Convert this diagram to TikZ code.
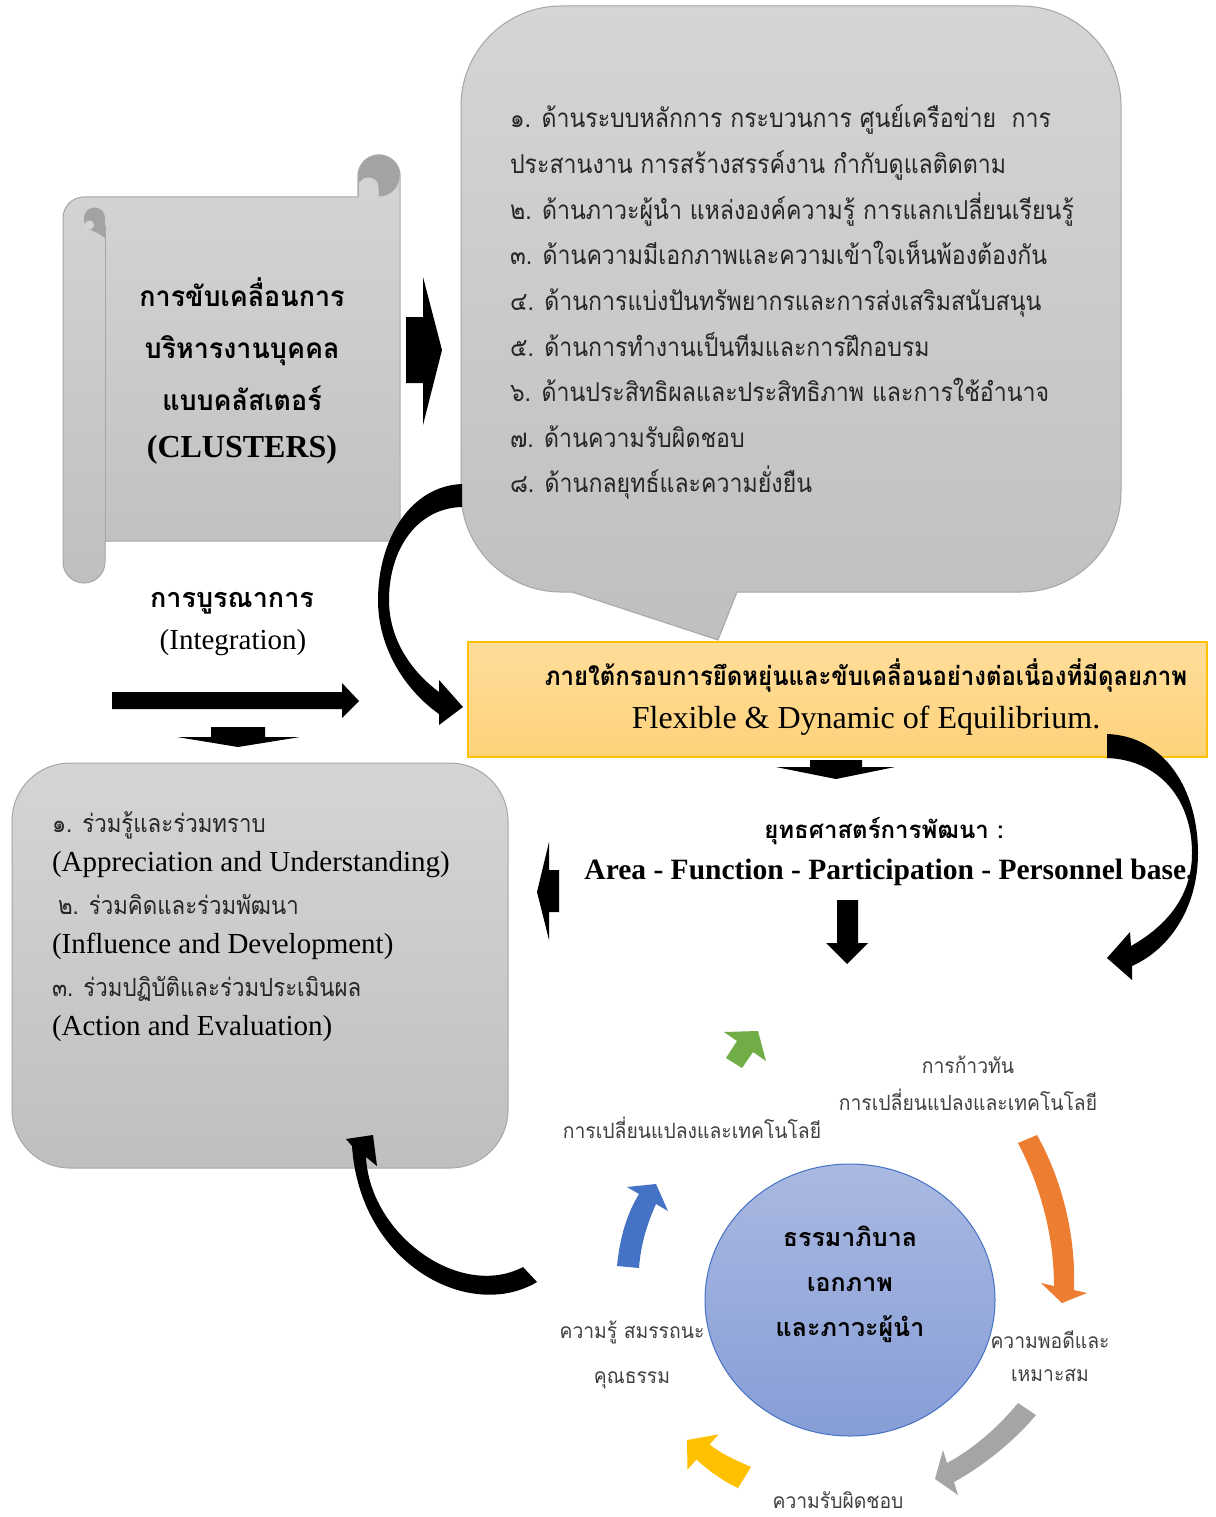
\documentclass[tikz,border=0pt]{standalone}
\usepackage{fontspec}
\setmainfont{Liberation Serif}
\newfontfamily\thai[Script=Thai]{Loma}
\newfontfamily\thainarrow[Script=Thai,FakeStretch=0.89]{Loma}
\newfontfamily\thaimid[Script=Thai,FakeStretch=0.92]{Loma}
\newfontfamily\thaiscroll[Script=Thai,FakeStretch=0.96]{Loma}
\definecolor{gTop}{HTML}{D5D5D5}
\definecolor{gBot}{HTML}{BFBFBF}
\definecolor{gEdge}{HTML}{A6A6A6}
\definecolor{gDark}{HTML}{A3A3A3}
\definecolor{yTop}{HTML}{FFDD9A}
\definecolor{yBot}{HTML}{FDD27A}
\definecolor{yEdge}{HTML}{FFC000}
\definecolor{cTop}{HTML}{AAB9E1}
\definecolor{cBot}{HTML}{869DD6}
\definecolor{cEdge}{HTML}{4472C4}
\definecolor{aGreen}{HTML}{70AD47}
\definecolor{aOrange}{HTML}{ED7D31}
\definecolor{aGrey}{HTML}{A5A5A5}
\definecolor{aGold}{HTML}{FFC000}
\definecolor{aBlue}{HTML}{4472C4}
\begin{document}
\begin{tikzpicture}[x=1pt,y=-1pt,
  panel/.style={top color=gTop, bottom color=gBot, draw=gEdge, line width=1},
  blockarrow/.style={fill=black},
  txt/.style={inner sep=0pt, outer sep=0pt},
  bubbleline/.style={txt, anchor=base west, text=black!85, font=\thainarrow\fontsize{26}{30}\selectfont},
  boxthai/.style={txt, anchor=base west, text=black!85, font=\thainarrow\fontsize{25}{30}\selectfont},
  boxlatin/.style={txt, anchor=base west, text=black, font=\fontsize{29}{34}\selectfont},
  scrollthai/.style={txt, anchor=base, font=\thaiscroll\bfseries\fontsize{28}{32}\selectfont},
  cyclelabel/.style={txt, anchor=base, text=black!75, font=\thaimid\fontsize{21}{24}\selectfont},
  corelabel/.style={txt, anchor=base, font=\thai\bfseries\fontsize{25}{30}\selectfont},
]
\useasboundingbox (0,0) rectangle (1215,1517);
\fill[white] (0,0) rectangle (1215,1517);

% ---------- scroll ----------
\path[panel] (84,197) -- (358,197) -- (358,176)
  .. controls (358,164.4) and (367.4,155) .. (379,155)
  .. controls (390.6,155) and (400,164.4) .. (400,176)
  -- (400,533) .. controls (400,537.4) and (396.4,541) .. (392,541)
  -- (105,541) -- (105,562)
  .. controls (105,573.6) and (95.6,583) .. (84,583)
  .. controls (72.4,583) and (63,573.6) .. (63,562)
  -- (63,218) .. controls (63,206.4) and (72.4,197) .. (84,197) -- cycle;
\draw[gEdge, line width=1] (105,226) -- (105,541);
% curls of the scroll
\fill[gDark] (84,219) -- (84,218) .. controls (84,212) and (88.5,207.5) .. (94.5,207.5)
  .. controls (100.5,207.5) and (105,212) .. (105,218) -- (105,238)
  .. controls (100,234) and (94,231) .. (88,229) .. controls (86,226) and (84,223) .. (84,219) -- cycle;
\fill[gTop] (89.5,225) circle (4.5);
\fill[gDark] (379,176) circle (20.5);
\fill[gTop!96!gBot] (358.5,197) -- (358.5,187) .. controls (358.5,181.5) and (363,177.5) .. (368.5,177.5)
  .. controls (374,177.5) and (378.5,181.5) .. (378.5,187) -- (378.5,197) -- cycle;
\draw[gEdge, line width=1] (358,197) -- (358,176)
  .. controls (358,164.4) and (367.4,155) .. (379,155)
  .. controls (390.6,155) and (400,164.4) .. (400,176);

\node[scrollthai] (scrollA) at (242,306) {การขับเคลื่อนการ};
\node[scrollthai] (scrollB) at (242,358) {บริหารงานบุคคล};
\node[scrollthai] (scrollC) at (242,410) {แบบคลัสเตอร์};
\node[txt, anchor=base, font=\bfseries\fontsize{32}{36}\selectfont] (scrollD) at (242,457) {(CLUSTERS)};

% arrow from scroll to the list
\path[blockarrow] (406,317) -- (423,317) -- (423,277) -- (442,350) -- (423,425) -- (423,383) -- (406,383) -- cycle;

% ---------- callout with the eight aspects ----------
\path[panel] (461,106) .. controls (461,50.8) and (505.8,6) .. (561,6)
  -- (1021,6) .. controls (1076.2,6) and (1121,50.8) .. (1121,106)
  -- (1121,492) .. controls (1121,547.2) and (1076.2,592) .. (1021,592)
  -- (737,592) -- (718,640) -- (572,592) -- (561,592)
  .. controls (505.8,592) and (461,547.2) .. (461,492) -- cycle;

\node[bubbleline] (asp1a) at (510,128) {๑. ด้านระบบหลักการ กระบวนการ ศูนย์เครือข่าย~~การ};
\node[bubbleline] (asp1b) at (510,173.6) {ประสานงาน การสร้างสรรค์งาน กำกับดูแลติดตาม};
\node[bubbleline] (asp2) at (510,219.2) {๒. ด้านภาวะผู้นำ แหล่งองค์ความรู้ การแลกเปลี่ยนเรียนรู้};
\node[bubbleline] (asp3) at (510,264.8) {๓. ด้านความมีเอกภาพและความเข้าใจเห็นพ้องต้องกัน};
\node[bubbleline] (asp4) at (510,310.4) {๔. ด้านการแบ่งปันทรัพยากรและการส่งเสริมสนับสนุน};
\node[bubbleline] (asp5) at (510,356) {๕. ด้านการทำงานเป็นทีมและการฝึกอบรม};
\node[bubbleline] (asp6) at (510,401.6) {๖. ด้านประสิทธิผลและประสิทธิภาพ และการใช้อำนาจ};
\node[bubbleline] (asp7) at (510,447.2) {๗. ด้านความรับผิดชอบ};
\node[bubbleline] (asp8) at (510,492.8) {๘. ด้านกลยุทธ์และความยั่งยืน};

% ---------- framework box ----------
\path[top color=yTop, bottom color=yBot, draw=yEdge, line width=1.5] (468,642) rectangle (1207,757);
\node[txt, anchor=base, font=\thaimid\bfseries\fontsize{26}{30}\selectfont] (frameTh) at (866,685) {ภายใต้กรอบการยึดหยุ่นและขับเคลื่อนอย่างต่อเนื่องที่มีดุลยภาพ};
\node[txt, anchor=base, font=\fontsize{32}{36}\selectfont] (frameEn) at (866,728) {Flexible \& Dynamic of Equilibrium.};

% curved arrow from the callout into the framework box
\path[blockarrow] (462,484) .. controls (410,486) and (378,540) .. (378,600)
  .. controls (378,648) and (405,690) .. (439,714)
  -- (439,725) -- (463,707) -- (439,680) -- (439,692)
  .. controls (412,672) and (389,640) .. (389,600)
  .. controls (389,548) and (418,508) .. (462,507) -- cycle;

% curved arrow from the framework box down the right side
\path[blockarrow] (1107,734) .. controls (1165,736) and (1198,790) .. (1198,853)
  .. controls (1198,905) and (1172,948) .. (1132,966)
  -- (1132,980) -- (1107,958) -- (1130,932) -- (1131,946)
  .. controls (1168,925) and (1192,895) .. (1192,853)
  .. controls (1192,800) and (1160,760) .. (1107,758) -- cycle;

% ---------- integration ----------
\node[txt, anchor=base, font=\thai\bfseries\fontsize{27}{30}\selectfont] (integTh) at (232,607) {การบูรณาการ};
\node[txt, anchor=base, font=\fontsize{29}{32}\selectfont] (integEn) at (233,649) {(Integration)};
\path[blockarrow] (112,692) -- (342,692) -- (342,683) -- (359,701) -- (342,718) -- (342,709) -- (112,709) -- cycle;
\path[blockarrow] (211,727) -- (265,727) -- (265,737) -- (300,737) -- (238,747) -- (177,737) -- (211,737) -- cycle;

% ---------- participation box ----------
\path[panel, rounded corners=58] (12,763) rectangle (508,1168);
\node[boxthai] (part1) at (52,832) {๑. ร่วมรู้และร่วมทราบ};
\node[boxlatin] (part1e) at (52,871) {(Appreciation and Understanding)};
\node[boxthai] (part2) at (58,914) {๒. ร่วมคิดและร่วมพัฒนา};
\node[boxlatin] (part2e) at (52,953) {(Influence and Development)};
\node[boxthai] (part3) at (52,996) {๓. ร่วมปฏิบัติและร่วมประเมินผล};
\node[boxlatin] (part3e) at (52,1035) {(Action and Evaluation)};

% ---------- strategy ----------
\path[blockarrow] (810,760) -- (862,760) -- (862,767) -- (895,767) -- (836,779) -- (776,767) -- (810,767) -- cycle;
\node[txt, anchor=base, font=\thai\bfseries\fontsize{24}{28}\selectfont] (stratTh) at (884,838) {ยุทธศาสตร์การพัฒนา :};
\node[txt, anchor=base, font=\bfseries\fontsize{29.5}{32}\selectfont] (stratEn) at (889,879) {Area - Function - Participation - Personnel base.};
\path[blockarrow] (559,870) -- (549,870) -- (549,842) -- (537,892) -- (549,940) -- (549,912) -- (559,912) -- cycle;
\path[blockarrow] (837,900) -- (858,900) -- (858,943) -- (868,943) -- (847,964) -- (826,943) -- (837,943) -- cycle;

% ---------- governance cycle ----------
\path[top color=cTop, bottom color=cBot, draw=cEdge, line width=1] (850,1300) ellipse (145 and 136);
\node[corelabel] (core1) at (850,1246) {ธรรมาภิบาล};
\node[corelabel] (core2) at (850,1291) {เอกภาพ};
\node[corelabel] (core3) at (850,1336) {และภาวะผู้นำ};

\fill[aGreen] (726,1058) -- (737,1041) -- (724,1032) -- (758,1031) -- (766,1061) -- (753,1052) -- (742,1068) -- cycle;
\fill[aOrange] (1018,1143) .. controls (1040,1185) and (1054,1235) .. (1054,1286)
  -- (1041,1283) -- (1062,1303) -- (1087,1293) -- (1074,1290)
  .. controls (1076,1235) and (1062,1180) .. (1037,1135) -- cycle;
\fill[aGrey] (1018,1403) .. controls (1000,1425) and (975,1448) .. (947,1463)
  -- (943,1450) -- (935,1479) -- (958,1495) -- (954,1482)
  .. controls (985,1465) and (1015,1440) .. (1036,1415) -- cycle;
\fill[aGold] (751,1467) .. controls (735,1460) and (720,1453) .. (709.6,1444.5)
  -- (718.5,1434.4) -- (687,1440) -- (687.5,1469.6) -- (696.4,1459.5)
  .. controls (710,1472) and (725,1482) .. (738,1488) -- cycle;
\fill[aBlue] (617,1266) .. controls (620,1235) and (628,1212) .. (639,1194)
  -- (627,1187) -- (656,1184) -- (668,1211) -- (656,1204)
  .. controls (648,1222) and (641,1242) .. (639,1268) -- cycle;

\node[cyclelabel] (lblKeep1) at (968,1073) {การก้าวทัน};
\node[cyclelabel] (lblKeep2) at (968,1110) {การเปลี่ยนแปลงและเทคโนโลยี};
\node[cyclelabel] (lblChange) at (692,1138) {การเปลี่ยนแปลงและเทคโนโลยี};
\node[cyclelabel] (lblFit1) at (1050,1348) {ความพอดีและ};
\node[cyclelabel] (lblFit2) at (1050,1381) {เหมาะสม};
\node[cyclelabel] (lblResp) at (838,1508) {ความรับผิดชอบ};
\node[cyclelabel] (lblKnow1) at (632,1338) {ความรู้ สมรรถนะ};
\node[cyclelabel] (lblKnow2) at (632,1383) {คุณธรรม};

% curved arrow from the cycle back to the participation box
\path[blockarrow] (537,1282) .. controls (470,1322) and (360,1265) .. (352,1146)
  -- (346,1139) -- (373,1135) -- (377,1166) -- (366,1157)
  .. controls (370,1235) and (460,1300) .. (523,1267) -- cycle;
\end{tikzpicture}
\end{document}
